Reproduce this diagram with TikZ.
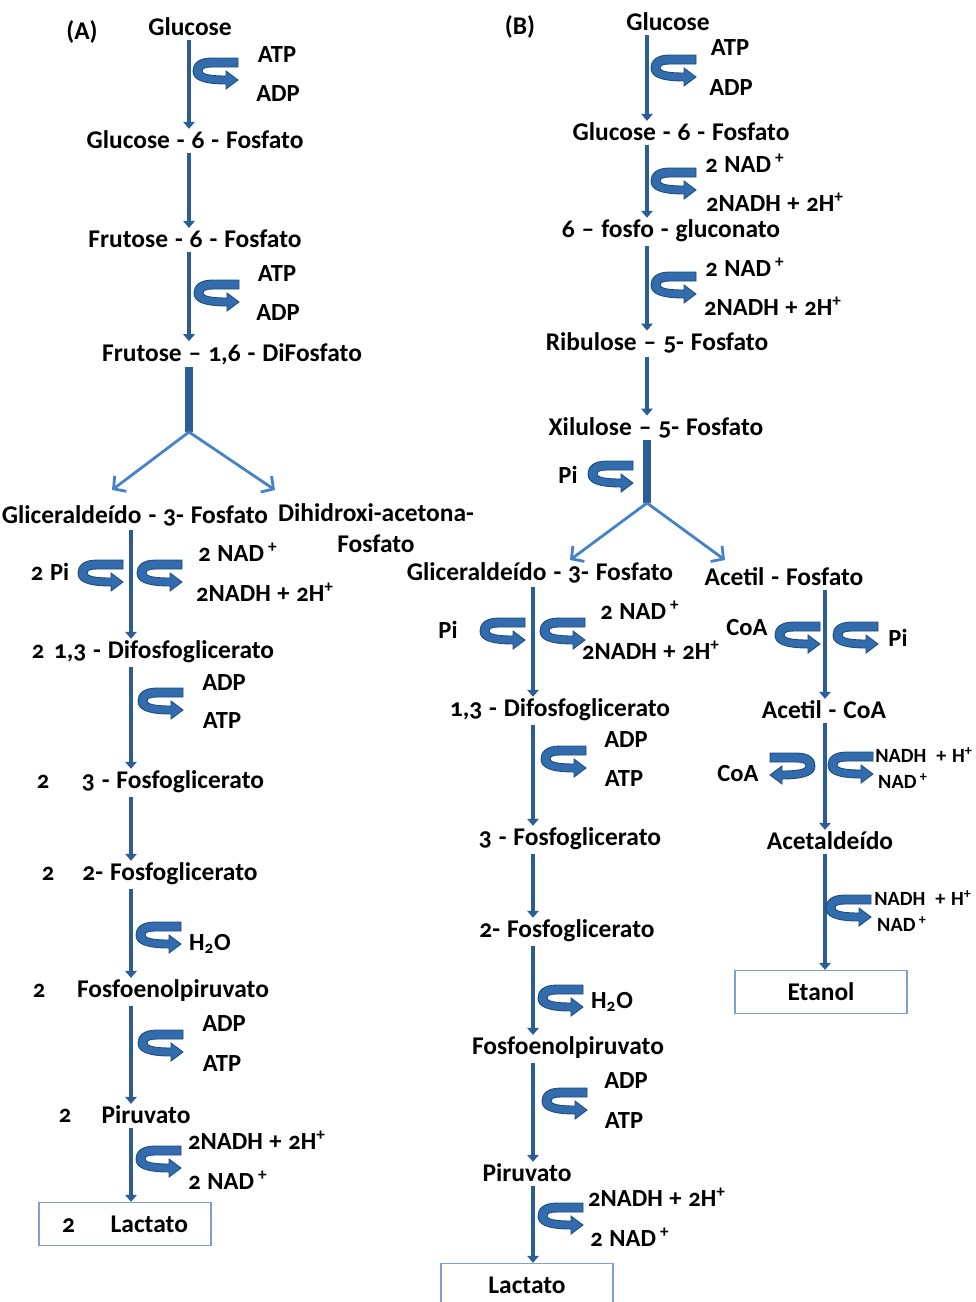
\documentclass[tikz,border=0pt]{standalone}
\usepackage{fontspec}
\setmainfont{Carlito}[Numbers=OldStyle, WordSpace=1.2]
\usetikzlibrary{arrows.meta}
\definecolor{pathblue}{RGB}{43,93,150}
\definecolor{turnblue}{RGB}{50,108,172}
\definecolor{turnedge}{RGB}{30,75,125}
\definecolor{forkblue}{RGB}{70,130,200}
\definecolor{boxblue}{RGB}{125,160,215}
\tikzset{
  cpd/.style={font=\bfseries\fontsize{14.5}{16}\selectfont, inner sep=1pt},
  cof/.style={font=\bfseries\fontsize{14}{15}\selectfont, inner sep=1pt},
  cofs/.style={font=\bfseries\fontsize{11.5}{13}\selectfont, inner sep=1pt},
  endbox/.style={cpd, draw=boxblue, line width=0.7pt, minimum width=3.44cm, minimum height=0.86cm},
  flow/.style={pathblue, line width=2.2pt, shorten <=1pt, -{Triangle[length=4pt,width=6.5pt]}},
  stem/.style={pathblue, line width=4pt},
  forkarrow/.style={forkblue, line width=1.6pt, -{Straight Barb[length=5pt,width=11pt]}},
  uturn/.pic={
    \filldraw[fill=turnblue, draw=turnedge, line width=0.5pt]
      (45,0) -- (19,0) .. controls (5,0) and (0,6) .. (0,13)
      .. controls (0,21) and (8,26) .. (33,26) -- (33,31) -- (45,22) -- (33,13) -- (33,18)
      .. controls (16,18) and (9,16) .. (9,13) .. controls (9,10) and (13,9) .. (19,9)
      -- (45,9) -- cycle;
  }
}
\begin{document}
\begin{tikzpicture}[x=0.02cm, y=-0.02cm]
  \useasboundingbox (0,0) rectangle (976,1302);
  % (A) glicolise / fermentacao latica
  \coordinate (colA) at (189,0);
  \coordinate (colA2) at (131,0);
  \node[cpd] (labA) at (82,32) {(A)};
  \node[cpd] (glcA) at (190,27) {Glucose};
  \node[cof] (atpA1) at (277,55) {ATP};
  \node[cof] (adpA1) at (278,94) {ADP};
  \node[cpd] (g6pA) at (195,140) {Glucose - 6 - Fosfato};
  \node[cpd] (f6pA) at (195,239) {Frutose - 6 - Fosfato};
  \node[cof] (atpA2) at (277,274) {ATP};
  \node[cof] (adpA2) at (278,313) {ADP};
  \node[cpd] (fbpA) at (232,354) {Frutose -- 1,6 - DiFosfato};
  \node[cpd] (gapA) at (135,516) {Gliceraldeído - 3- Fosfato};
  \node[cpd, align=center, font=\bfseries\fontsize{14.5}{17.6}\selectfont] (dhapA) at (376,528) {Dihidroxi-acetona-\\Fosfato};
  \node[cof] (piA) at (50,572) {2 Pi};
  \node[cof] (nadA1) at (238,552) {2 NAD\,\textsuperscript{+}};
  \node[cof] (nadhA1) at (265,592) {2NADH + 2H\textsuperscript{+}};
  \node[cof] (nA1) at (38,652) {2};
  \node[cpd] (bpgA) at (164,652) {1,3 - Difosfoglicerato};
  \node[cof] (adpA3) at (224,683) {ADP};
  \node[cof] (atpA3) at (222,721) {ATP};
  \node[cof] (nA2) at (43,782) {2};
  \node[cpd] (pg3A) at (173,782) {3 - Fosfoglicerato};
  \node[cof] (nA3) at (48,874) {2};
  \node[cpd] (pg2A) at (170,874) {2- Fosfoglicerato};
  \node[cof] (h2oA) at (210,944) {H\textsubscript{2}O};
  \node[cof] (nA4) at (39,991) {2};
  \node[cpd] (pepA) at (173,991) {Fosfoenolpiruvato};
  \node[cof] (adpA4) at (224,1024) {ADP};
  \node[cof] (atpA4) at (222,1064) {ATP};
  \node[cof] (nA5) at (65,1116) {2};
  \node[cpd] (pyrA) at (146,1115) {Piruvato};
  \node[cof] (nadhA2) at (257,1140) {2NADH + 2H\textsuperscript{+}};
  \node[cof] (nadA2) at (228,1180) {2 NAD\,\textsuperscript{+}};
  \node[endbox] (lacA) at (125,1224) {2\hspace{1.4em}Lactato};
  \coordinate (forkA) at (189,432);
  \coordinate (forkAl) at (112,490);
  \coordinate (forkAr) at (275,490);
  \draw[flow] (colA |- glcA.south) -- (colA |- g6pA.north);
  \draw[flow] (colA |- g6pA.south) -- (colA |- f6pA.north);
  \draw[flow] (colA |- f6pA.south) -- (colA |- fbpA.north);
  \draw[stem] (colA |- fbpA.south) -- (forkA);
  \draw[forkarrow] (forkA) -- (forkAl);
  \draw[forkarrow] (forkA) -- (forkAr);
  \draw[flow] (colA2 |- gapA.south) -- (colA2 |- bpgA.north);
  \draw[flow] (colA2 |- bpgA.south) -- (colA2 |- pg3A.north);
  \draw[flow] (colA2 |- pg3A.south) -- (colA2 |- pg2A.north);
  \draw[flow] (colA2 |- pg2A.south) -- (colA2 |- pepA.north);
  \draw[flow] (colA2 |- pepA.south) -- (colA2 |- pyrA.north);
  \draw[flow] (colA2 |- pyrA.south) -- (colA2 |- lacA.north);
  \pic at (193,58) {uturn};
  \pic at (194,280) {uturn};
  \pic at (78,560) {uturn};
  \pic at (137,560) {uturn};
  \pic at (138,688) {uturn};
  \pic at (136,922) {uturn};
  \pic at (138,1030) {uturn};
  \pic at (136,1146) {uturn};
  % (B) via das pentoses / fermentacao
  \coordinate (colB) at (647,0);
  \coordinate (colB2) at (533,0);
  \coordinate (colC) at (825,0);
  \node[cpd] (labB) at (520,27) {(B)};
  \node[cpd] (glcB) at (668,22) {Glucose};
  \node[cof] (atpB1) at (730,48) {ATP};
  \node[cof] (adpB1) at (731,88) {ADP};
  \node[cpd] (g6pB) at (681,132) {Glucose - 6 - Fosfato};
  \node[cof] (nadB1) at (745,163) {2 NAD\,\textsuperscript{+}};
  \node[cof] (nadhB1) at (775,202) {2NADH + 2H\textsuperscript{+}};
  \node[cpd] (pglB) at (671,231) {6 -- fosfo - gluconato};
  \node[cof] (nadB2) at (745,267) {2 NAD\,\textsuperscript{+}};
  \node[cof] (nadhB2) at (773,306) {2NADH + 2H\textsuperscript{+}};
  \node[cpd] (ru5pB) at (657,343) {Ribulose -- 5- Fosfato};
  \node[cpd] (xu5pB) at (656,428) {Xilulose -- 5- Fosfato};
  \node[cof] (piB1) at (568,475) {Pi};
  \node[cpd] (gapB) at (540,573) {Gliceraldeído - 3- Fosfato};
  \node[cpd] (acpB) at (784,577) {Acetil - Fosfato};
  \node[cof] (piB2) at (448,630) {Pi};
  \node[cof] (nadB3) at (640,610) {2 NAD\,\textsuperscript{+}};
  \node[cof] (nadhB3) at (651,650) {2NADH + 2H\textsuperscript{+}};
  \node[cof] (coaB1) at (747,628) {CoA};
  \node[cof] (piB3) at (898,638) {Pi};
  \node[cpd] (bpgB) at (560,710) {1,3 - Difosfoglicerato};
  \node[cpd] (accoaB) at (824,710) {Acetil - CoA};
  \node[cof] (adpB2) at (626,740) {ADP};
  \node[cof] (atpB2) at (624,779) {ATP};
  \node[cof] (coaB2) at (738,774) {CoA};
  \node[cofs] (nadhB4) at (924,755) {NADH\enspace+ H\textsuperscript{+}};
  \node[cofs] (nadB4) at (903,781) {NAD\,\textsuperscript{+}};
  \node[cpd] (pg3B) at (570,839) {3 - Fosfoglicerato};
  \node[cpd] (acaldB) at (830,841) {Acetaldeído};
  \node[cofs] (nadhB5) at (923,898) {NADH\enspace+ H\textsuperscript{+}};
  \node[cofs] (nadB5) at (902,924) {NAD\,\textsuperscript{+}};
  \node[endbox] (etohB) at (821,992) {Etanol};
  \node[cpd] (pg2B) at (567,931) {2- Fosfoglicerato};
  \node[cof] (h2oB) at (612,1002) {H\textsubscript{2}O};
  \node[cpd] (pepB) at (568,1048) {Fosfoenolpiruvato};
  \node[cof] (adpB3) at (626,1081) {ADP};
  \node[cof] (atpB3) at (624,1121) {ATP};
  \node[cpd] (pyrB) at (527,1173) {Piruvato};
  \node[cof] (nadhB6) at (657,1197) {2NADH + 2H\textsuperscript{+}};
  \node[cof] (nadB6) at (630,1237) {2 NAD\,\textsuperscript{+}};
  \node[endbox] (lacB) at (527,1285) {Lactato};
  \coordinate (forkB) at (647,503);
  \coordinate (forkBl) at (570,560);
  \coordinate (forkBr) at (725,560);
  \draw[flow] (colB |- glcB.south) -- (colB |- g6pB.north);
  \draw[flow] (colB |- g6pB.south) -- (colB |- pglB.north);
  \draw[flow] (colB |- pglB.south) -- (colB |- ru5pB.north);
  \draw[flow] (colB |- ru5pB.south) -- (colB |- xu5pB.north);
  \draw[stem] (colB |- xu5pB.south) -- (forkB);
  \draw[forkarrow] (forkB) -- (forkBl);
  \draw[forkarrow] (forkB) -- (forkBr);
  \draw[flow] (colB2 |- gapB.south) -- (colB2 |- bpgB.north);
  \draw[flow] (colB2 |- bpgB.south) -- (colB2 |- pg3B.north);
  \draw[flow] (colB2 |- pg3B.south) -- (colB2 |- pg2B.north);
  \draw[flow] (colB2 |- pg2B.south) -- (colB2 |- pepB.north);
  \draw[flow] (colB2 |- pepB.south) -- (colB2 |- pyrB.north);
  \draw[flow] (colB2 |- pyrB.south) -- (colB2 |- lacB.north);
  \draw[flow] (colC |- acpB.south) -- (colC |- accoaB.north);
  \draw[flow] (colC |- accoaB.south) -- (colC |- acaldB.north);
  \draw[flow] (colC |- acaldB.south) -- (colC |- etohB.north);
  \pic at (651,55) {uturn};
  \pic at (651,168) {uturn};
  \pic at (651,272) {uturn};
  \pic at (588,461) {uturn};
  \pic at (480,618) {uturn};
  \pic at (540,618) {uturn};
  \pic at (541,746) {uturn};
  \pic at (538,985) {uturn};
  \pic at (542,1088) {uturn};
  \pic at (538,1203) {uturn};
  \pic at (775,622) {uturn};
  \pic at (833,622) {uturn};
  \pic[xscale=-1] at (815,753) {uturn};
  \pic at (828,752) {uturn};
  \pic at (826,895) {uturn};
\end{tikzpicture}
\end{document}
